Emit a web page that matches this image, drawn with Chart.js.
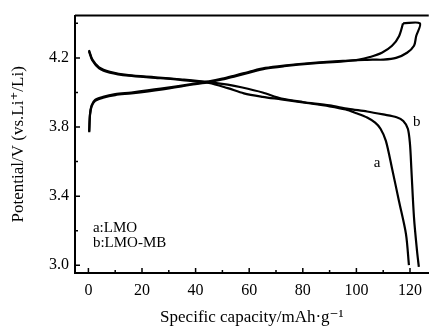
<!DOCTYPE html>
<html>
<head>
<meta charset="utf-8">
<script src="https://cdn.jsdelivr.net/npm/chart.js@4/dist/chart.umd.min.js"></script>
<style>
  html, body { margin: 0; padding: 0; background: #fff; }
  canvas { display: block; }
</style>
</head>
<body>
<canvas id="chart" width="430" height="329"></canvas>
<script>
// charge / discharge curves, capacity in mAh/g, potential in V
const chargeCapA = [0.3, 0.6, 1.2, 2.5, 5.5, 10, 16, 27, 39, 45, 50, 55, 60, 66, 73, 84, 95, 101, 105, 109.5, 113.3, 115.9, 117.4]
const chargeVA   = [3.77, 3.87, 3.92, 3.952, 3.97, 3.985, 3.995, 4.017, 4.046, 4.06, 4.075, 4.095, 4.115, 4.138, 4.152, 4.168, 4.18, 4.19, 4.205, 4.23, 4.27, 4.326, 4.40]

const chargeCapB = [0.3, 0.6, 1.2, 2.5, 5.5, 10, 16, 27, 39, 45, 50, 55, 60, 66, 73, 84, 95, 103, 106, 110, 114.8, 118.9, 121.5, 122.3, 123.7, 117.4]
const chargeVB   = [3.775, 3.875, 3.925, 3.957, 3.975, 3.99, 4.0, 4.022, 4.05, 4.064, 4.08, 4.1, 4.12, 4.142, 4.156, 4.172, 4.183, 4.188, 4.19, 4.19, 4.20, 4.23, 4.27, 4.326, 4.40, 4.40]

const dischargeCapA = [0.2, 1.5, 4, 8, 15, 25, 35, 45, 52, 58, 65, 72, 80, 90, 96, 100, 104, 107, 109, 111, 113.3, 115.9, 118.5, 119.6]
const dischargeVA   = [4.24, 4.185, 4.14, 4.115, 4.097, 4.085, 4.072, 4.055, 4.025, 3.995, 3.975, 3.96, 3.942, 3.92, 3.902, 3.88, 3.855, 3.825, 3.79, 3.72, 3.56, 3.37, 3.18, 3.0]

const dischargeCapB = [0.2, 1.5, 4, 8, 15, 25, 35, 45, 52, 57, 65, 72, 80, 90, 97, 104, 110, 115, 117.5, 119.2, 120, 120.5, 121.5, 122.6, 123.3]
const dischargeVB   = [4.245, 4.19, 4.145, 4.12, 4.10, 4.088, 4.075, 4.06, 4.045, 4.03, 4.0, 3.965, 3.945, 3.925, 3.905, 3.89, 3.873, 3.857, 3.835, 3.79, 3.70, 3.56, 3.274, 3.086, 2.99]

const xTicks = [0, 20, 40, 60, 80, 100, 120]
const xMinor = [10, 30, 50, 70, 90, 110]
const yTicks = [3.0, 3.4, 3.8, 4.2]
const yMinor = [3.2, 3.6, 4.0, 4.4]

const legendLines = ['a:LMO', 'b:LMO-MB']

const serif = '"Liberation Serif", "DejaVu Serif", serif'

function pts(xs, ys) {
  return xs.map((x, i) => ({ x: x, y: ys[i] }))
}

function curve(xs, ys) {
  return {
    data: pts(xs, ys),
    showLine: true,
    borderColor: '#000',
    borderWidth: 2.2,
    pointRadius: 0,
    tension: 0.3,
    fill: false
  }
}

// frame, inward ticks and in-plot labels
const decorations = {
  id: 'decorations',
  afterDraw(chart) {
    const ctx = chart.ctx
    const xs = chart.scales.x
    const ys = chart.scales.y
    const area = chart.chartArea
    ctx.save()
    ctx.strokeStyle = '#000'
    ctx.lineWidth = 2
    ctx.beginPath()
    ctx.moveTo(area.left, area.top)
    ctx.lineTo(area.right, area.top)
    ctx.stroke()

    ctx.lineWidth = 1.5
    ctx.beginPath()
    xTicks.forEach(v => {
      const p = xs.getPixelForValue(v)
      ctx.moveTo(p, area.bottom); ctx.lineTo(p, area.bottom - 5)
    })
    xMinor.forEach(v => {
      const p = xs.getPixelForValue(v)
      ctx.moveTo(p, area.bottom); ctx.lineTo(p, area.bottom - 3)
    })
    yTicks.forEach(v => {
      const p = ys.getPixelForValue(v)
      ctx.moveTo(area.left, p); ctx.lineTo(area.left + 5, p)
    })
    yMinor.forEach(v => {
      const p = ys.getPixelForValue(v)
      ctx.moveTo(area.left, p); ctx.lineTo(area.left + 3, p)
    })
    ctx.stroke()

    ctx.fillStyle = '#000'
    ctx.font = '15px ' + serif
    ctx.textBaseline = 'middle'
    ctx.textAlign = 'left'
    ctx.fillText(legendLines[0], xs.getPixelForValue(1.7), ys.getPixelForValue(3.217))
    ctx.fillText(legendLines[1], xs.getPixelForValue(1.7), ys.getPixelForValue(3.126))
    ctx.textAlign = 'center'
    ctx.fillText('a', xs.getPixelForValue(107.7), ys.getPixelForValue(3.59))
    ctx.fillText('b', xs.getPixelForValue(122.5), ys.getPixelForValue(3.83))
    ctx.restore()
  }
}

new Chart(document.getElementById('chart'), {
  type: 'scatter',
  data: {
    datasets: [
      curve(chargeCapA, chargeVA),
      curve(chargeCapB, chargeVB),
      curve(dischargeCapA, dischargeVA),
      curve(dischargeCapB, dischargeVB)
    ]
  },
  options: {
    responsive: false,
    animation: false,
    layout: { padding: { top: 12, right: 0, left: 0, bottom: 0 } },
    plugins: {
      legend: { display: false },
      tooltip: { enabled: false }
    },
    scales: {
      x: {
        type: 'linear',
        min: -5,
        max: 127,
        afterBuildTicks: (scale) => { scale.ticks = xTicks.map(v => ({ value: v })) },
        afterFit: (scale) => { scale.height = 56 },
        grid: { display: false, drawTicks: false },
        border: { display: true, color: '#000', width: 2 },
        ticks: {
          color: '#000',
          padding: 8,
          maxRotation: 0,
          font: { family: serif, size: 16 }
        },
        title: {
          display: true,
          text: 'Specific capacity/mAh·g⁻¹',
          color: '#000',
          font: { family: serif, size: 17 },
          padding: { top: 0, bottom: 1 }
        }
      },
      y: {
        type: 'linear',
        min: 2.955,
        max: 4.445,
        afterBuildTicks: (scale) => { scale.ticks = yTicks.map(v => ({ value: v })) },
        afterFit: (scale) => { scale.width = 75 },
        grid: { display: false, drawTicks: false },
        border: { display: true, color: '#000', width: 2 },
        ticks: {
          color: '#000',
          padding: 6,
          font: { family: serif, size: 16 },
          callback: (v) => Number(v).toFixed(1)
        },
        title: {
          display: true,
          text: 'Potential/V (vs.Li⁺/Li)',
          color: '#000',
          font: { family: serif, size: 17 },
          padding: { top: 8, bottom: 0 }
        }
      }
    }
  },
  plugins: [decorations]
})
</script>
</body>
</html>
